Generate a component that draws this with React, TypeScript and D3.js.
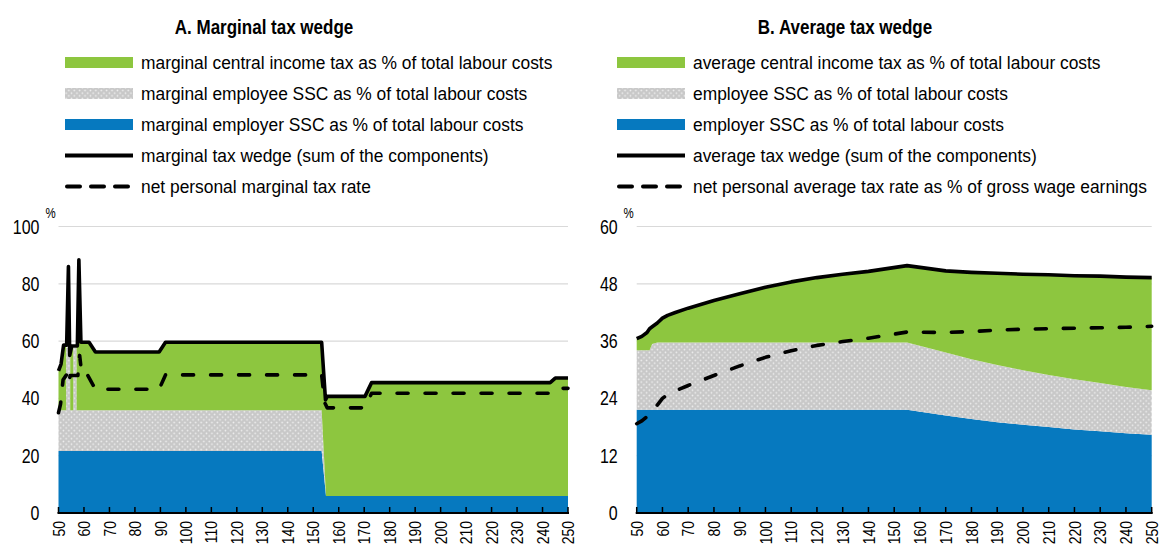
import React from "react";
import * as d3 from "d3";

// ---------- Panel A: marginal tax wedge ----------
const A_AREA_X = [50, 52, 53, 53, 54.6, 54.6, 55.8, 55.8, 57.1, 57.1, 62, 64.5, 89.5, 92, 153.3, 155, 170.3, 172.9, 243, 245, 250];
const A_EMPLOYER = [21.6, 21.6, 21.6, 21.6, 21.6, 21.6, 21.6, 21.6, 21.6, 21.6, 21.6, 21.6, 21.6, 21.6, 21.6, 5.9, 5.9, 5.9, 5.9, 5.9, 5.9];
const A_EMPLOYEE = [14.3, 14.3, 14.3, 36, 36, 14.3, 14.3, 36, 36, 14.3, 14.3, 14.3, 14.3, 14.3, 14.3, 0, 0, 0, 0, 0, 0];
const A_INCOME = [13.7, 22.7, 22.7, 0, 0, 22.1, 22.1, 0, 0, 23.7, 23.7, 20.3, 20.3, 23.7, 23.7, 34.8, 34.8, 39.6, 39.6, 41.2, 41.2];

const A_WEDGE_X = [50, 51, 52, 53.2, 53.9, 54.4, 55.2, 57.4, 58, 58.8, 62, 64.5, 89.5, 92, 153.3, 154.8, 155.5, 170.3, 172.9, 243, 245, 250];
const A_WEDGE = [49.6, 52, 58.6, 58.6, 86, 55, 58.3, 58.3, 88.4, 59.6, 59.6, 56.2, 56.2, 59.6, 59.6, 39.5, 40.7, 40.7, 45.5, 45.5, 47.1, 47.1];

const A_NET_X = [50, 50.8, 51.8, 53.2, 53.9, 54.6, 57.6, 58.3, 59.2, 61.5, 64.5, 89.5, 92, 153.3, 154.5, 155.5, 170.3, 172.9, 243, 245, 250];
const A_NET = [35, 38, 46.5, 48.3, 45, 48, 48, 55, 48, 48, 43.2, 43.2, 48.2, 48.2, 38.5, 36.7, 36.7, 41.8, 41.8, 43.5, 43.5];

const A_Y_TICKS = [0, 20, 40, 60, 80, 100];

// ---------- Panel B: average tax wedge ----------
const B_X = [50, 52, 54, 55, 56, 58, 60, 62, 65, 70, 80, 90, 100, 110, 120, 130, 140, 155, 170, 180, 190, 200, 210, 220, 230, 240, 250];
const B_EMPLOYER = [21.6, 21.6, 21.6, 21.6, 21.6, 21.6, 21.6, 21.6, 21.6, 21.6, 21.6, 21.6, 21.6, 21.6, 21.6, 21.6, 21.6, 21.6, 20.4, 19.7, 19.0, 18.5, 18.0, 17.5, 17.1, 16.7, 16.4];
const B_SSC_TOTAL = [34.1, 34.1, 34.1, 34.1, 35.4, 35.7, 35.7, 35.7, 35.7, 35.7, 35.7, 35.7, 35.7, 35.7, 35.7, 35.7, 35.7, 35.7, 33.6, 32.2, 31.0, 29.9, 28.9, 28.0, 27.2, 26.4, 25.7];
const B_WEDGE = [36.5, 37.0, 37.8, 38.6, 39.0, 39.8, 40.8, 41.4, 42.0, 42.9, 44.5, 45.9, 47.3, 48.4, 49.3, 50.0, 50.6, 51.8, 50.7, 50.4, 50.2, 50.0, 49.9, 49.7, 49.6, 49.4, 49.3];
const B_NET = [18.7, 19.3, 20.2, 20.7, 21.2, 22.6, 24.0, 24.8, 25.6, 26.7, 28.8, 30.8, 32.6, 34.0, 35.1, 35.9, 36.6, 37.9, 37.8, 38.0, 38.3, 38.5, 38.6, 38.7, 38.8, 38.9, 39.1];

const B_Y_TICKS = [0, 12, 24, 36, 48, 60];

const X_TICKS = d3.range(50, 251, 10);

const LEGEND_A = [
  "marginal central income tax as % of total labour costs",
  "marginal employee SSC as % of total labour costs",
  "marginal employer SSC as % of total labour costs",
  "marginal tax wedge (sum of the components)",
  "net personal marginal tax rate",
];
const LEGEND_B = [
  "average central income tax as % of total labour costs",
  "employee SSC as % of total labour costs",
  "employer SSC as % of total labour costs",
  "average tax wedge (sum of the components)",
  "net personal average tax rate as % of gross wage earnings",
];

const GREEN = "#8DC63F";
const BLUE = "#0679BF";
const FONT = "'Liberation Sans', Arial, sans-serif";

function NText(props: {
  x: number;
  y: number;
  size: number;
  sx?: number;
  anchor?: "start" | "middle" | "end";
  bold?: boolean;
  rotate?: number;
  dy?: string;
  children: React.ReactNode;
}) {
  return (
    <text
      transform={`translate(${props.x},${props.y}) rotate(${props.rotate || 0}) scale(${props.sx || 0.82},1)`}
      textAnchor={props.anchor || "start"}
      dy={props.dy || "0"}
      fontSize={props.size}
      fontWeight={props.bold ? "bold" : "normal"}
      fontFamily={FONT}
      fill="#000"
    >
      {props.children}
    </text>
  );
}

type Row = { x: number; employer: number; employee: number; income: number };

function Panel(props: {
  title: string;
  titleX: number;
  legend: string[];
  legendX: number;
  x0: number;
  x1: number;
  yMax: number;
  yTicks: number[];
  rows: Row[];
  wedgeX: number[];
  wedge: number[];
  netX: number[];
  net: number[];
}) {
  const { x0, x1 } = props;
  const yBottom = 513;
  const yTop = 226.5;
  const x = d3.scaleLinear().domain([50, 250]).range([x0, x1]);
  const y = d3.scaleLinear().domain([0, props.yMax]).range([yBottom, yTop]);
  const stack = d3.stack<Row>().keys(["employer", "employee", "income"]);
  const series = stack(props.rows);
  const area = d3
    .area<any>()
    .x((d) => x(d.data.x))
    .y0((d) => y(d[0]))
    .y1((d) => y(d[1]));
  const fills = [BLUE, "url(#dots)", GREEN];
  const line = d3
    .line<[number, number]>()
    .x((d) => x(d[0]))
    .y((d) => y(d[1]));
  const wedgePts = props.wedgeX.map((v, i) => [v, props.wedge[i]] as [number, number]);
  const netPts = props.netX.map((v, i) => [v, props.net[i]] as [number, number]);
  const lx = props.legendX;
  const rowY = (i: number) => 62.5 + 31 * i;

  return (
    <g>
      <NText x={props.titleX} y={34} anchor="middle" bold size={20} sx={0.85}>
        {props.title}
      </NText>
      {props.legend.map((t, i) => (
        <g key={i}>
          {i < 3 ? (
            <rect x={lx} y={rowY(i) - 5.5} width={68} height={11} fill={[GREEN, "url(#dots)", BLUE][i]} />
          ) : i === 3 ? (
            <line x1={lx} x2={lx + 68} y1={rowY(i)} y2={rowY(i)} stroke="#000" strokeWidth={4} />
          ) : (
            <line x1={lx + 2} x2={lx + 68} y1={rowY(i)} y2={rowY(i)} stroke="#000" strokeWidth={4} strokeDasharray="13 11" strokeLinecap="round" />
          )}
          <NText x={lx + 76} y={rowY(i)} dy="0.36em" size={18.5} sx={0.94}>
            {t}
          </NText>
        </g>
      ))}
      {props.yTicks.filter((t) => t > 0).map((t) => (
        <line key={t} x1={x0} x2={x1} y1={y(t)} y2={y(t)} stroke="#d9d9d9" strokeWidth={1.2} />
      ))}
      {series.map((s, i) => (
        <path key={i} d={area(s as any) || ""} fill={fills[i]} />
      ))}
      <path d={line(wedgePts) || ""} fill="none" stroke="#000" strokeWidth={3.6} strokeLinejoin="round" />
      <path d={line(netPts) || ""} fill="none" stroke="#000" strokeWidth={3.6} strokeDasharray="11 17" strokeLinecap="round" strokeLinejoin="round" />
      <line x1={x0 - 1} x2={x1 + 1} y1={yBottom} y2={yBottom} stroke="#000" strokeWidth={2} />
      {X_TICKS.map((t) => (
        <g key={t}>
          <line x1={x(t)} x2={x(t)} y1={yBottom} y2={yBottom - 6} stroke="#000" strokeWidth={1.5} />
          <NText x={x(t)} y={yBottom + 8} rotate={-90} anchor="end" dy="0.36em" size={17}>
            {t}
          </NText>
        </g>
      ))}
      {props.yTicks.map((t) => (
        <NText key={t} x={x0 - 19} y={y(t)} dy="0.36em" anchor="end" size={19.5}>
          {t}
        </NText>
      ))}
      <NText x={x0 - 8} y={y(props.yMax) - 9} anchor="middle" size={14}>
        %
      </NText>
    </g>
  );
}

export default function App() {
  const rowsA: Row[] = A_AREA_X.map((v, i) => ({
    x: v,
    employer: A_EMPLOYER[i],
    employee: A_EMPLOYEE[i],
    income: A_INCOME[i],
  }));
  const rowsB: Row[] = B_X.map((v, i) => ({
    x: v,
    employer: B_EMPLOYER[i],
    employee: B_SSC_TOTAL[i] - B_EMPLOYER[i],
    income: B_WEDGE[i] - B_SSC_TOTAL[i],
  }));
  return (
    <svg width={1162} height={548} style={{ position: "absolute", left: 0, top: 0, background: "#fff" }}>
      <defs>
        <pattern id="dots" width={5.4} height={5.4} patternUnits="userSpaceOnUse">
          <rect width={5.4} height={5.4} fill="#c8c8c8" />
          <circle cx={1.35} cy={1.35} r={0.85} fill="#f0f0f0" />
          <circle cx={4.05} cy={4.05} r={0.85} fill="#f0f0f0" />
        </pattern>
      </defs>
      <rect width={1162} height={548} fill="#fff" />
      <Panel
        title="A. Marginal tax wedge"
        titleX={264}
        legend={LEGEND_A}
        legendX={65}
        x0={58.5}
        x1={568}
        yMax={100}
        yTicks={A_Y_TICKS}
        rows={rowsA}
        wedgeX={A_WEDGE_X}
        wedge={A_WEDGE}
        netX={A_NET_X}
        net={A_NET}
      />
      <Panel
        title="B. Average tax wedge"
        titleX={845}
        legend={LEGEND_B}
        legendX={617}
        x0={636.7}
        x1={1151.7}
        yMax={60}
        yTicks={B_Y_TICKS}
        rows={rowsB}
        wedgeX={B_X}
        wedge={B_WEDGE}
        netX={B_X}
        net={B_NET}
      />
    </svg>
  );
}
